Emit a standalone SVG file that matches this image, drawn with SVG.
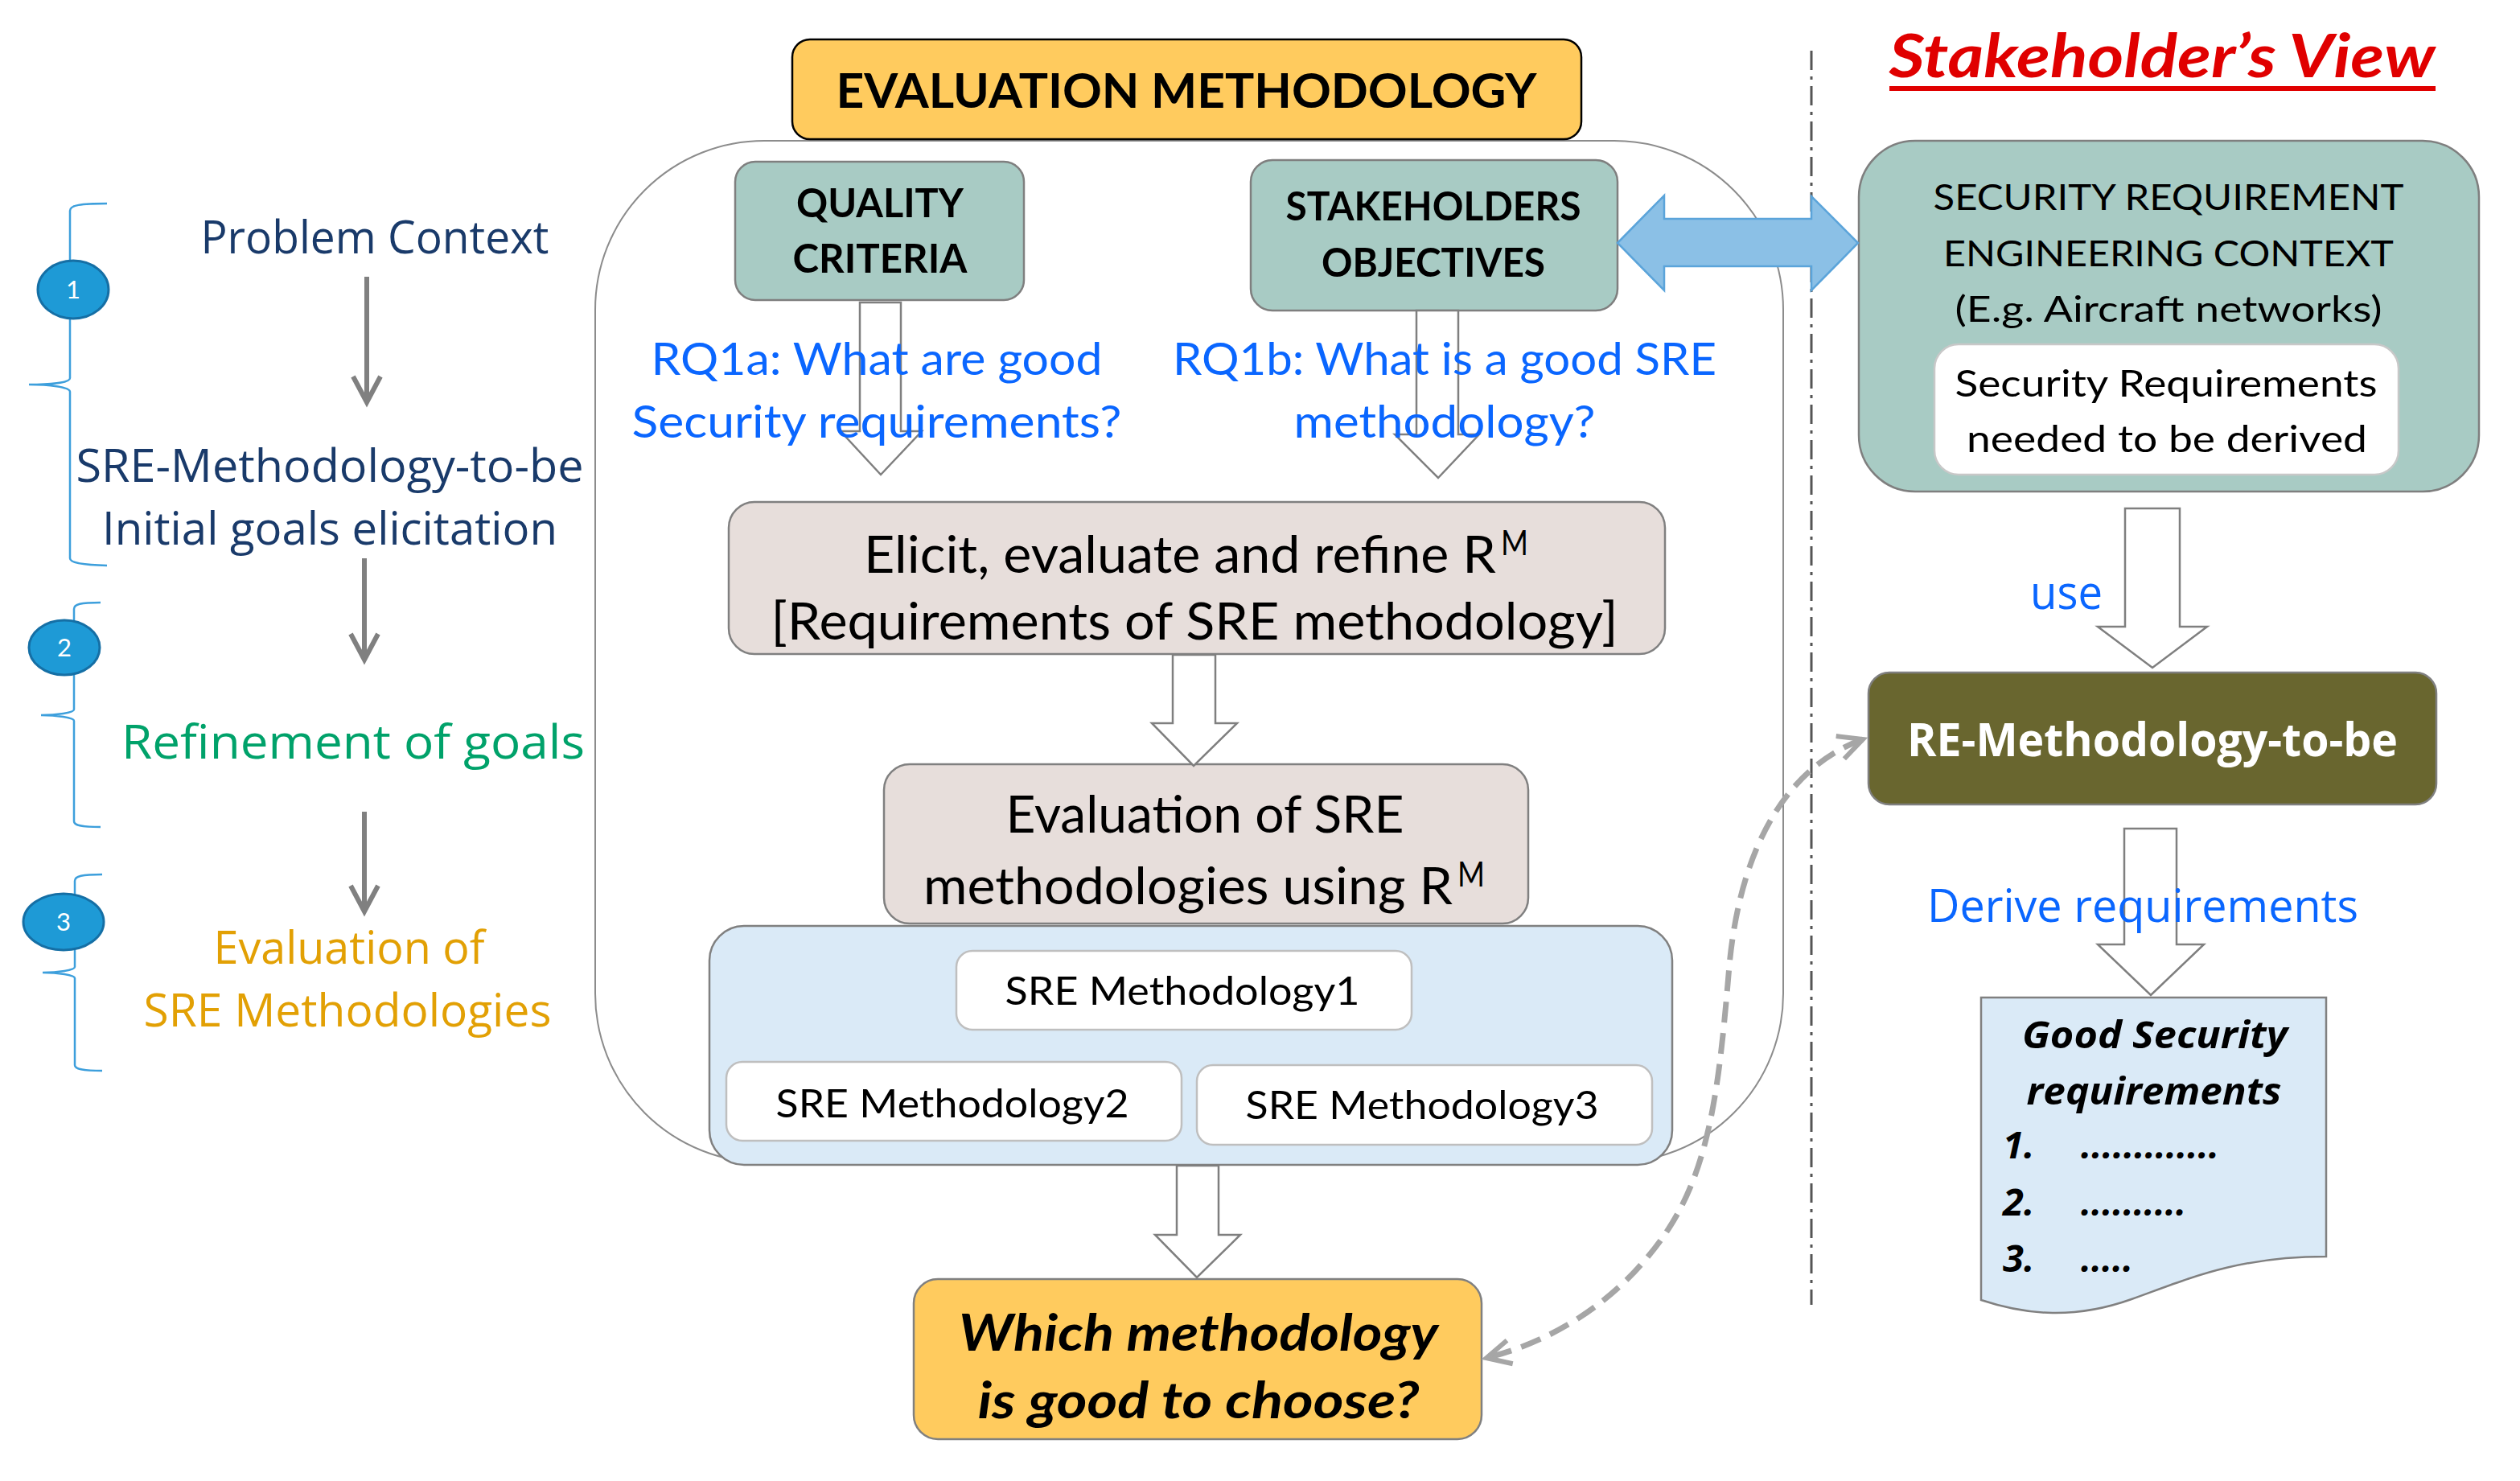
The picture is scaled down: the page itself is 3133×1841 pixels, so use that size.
<svg xmlns="http://www.w3.org/2000/svg" width="3133" height="1841" viewBox="0 0 3133 1841">
<defs>
<style>
text { font-family: Lato, 'Open Sans', 'Liberation Sans', sans-serif; fill:#000000; }
.os { font-family: 'Open Sans', 'Liberation Sans', sans-serif; }
.c { text-anchor: middle; }
.b { font-weight: bold; }
.i { font-style: italic; }
.teal { fill:#A8CBC4; stroke:#7F7F7F; stroke-width:2.5; }
.rose { fill:#E7DEDB; stroke:#808080; stroke-width:2.5; }
.lblue { fill:#DAEAF7; stroke:#808080; stroke-width:2.5; }
.wbox { fill:#FFFFFF; stroke:#BFBFBF; stroke-width:2.5; }
.gold { fill:#FFCB5E; stroke:#808080; stroke-width:2.5; }
.block { fill:#FFFFFF; stroke:#7F7F7F; stroke-width:2.5; stroke-linejoin:miter; }
.brace { fill:none; stroke:#3D9FDC; stroke-width:2.5; }
.badge { fill:#1E9AD6; stroke:#156FA5; stroke-width:3; }
.badge-t { fill:#FFFFFF; font-size:31px; text-anchor:middle; }
.garrow { stroke:#808080; stroke-width:6; fill:none; marker-end:url(#gv); }
.blue { fill:#0A66FF; }
.navy { fill:#193A6A; }
</style>
<marker id="gv" markerUnits="userSpaceOnUse" viewBox="-40 -24 48 48" markerWidth="48" markerHeight="48" refX="0" refY="0" orient="auto">
<path d="M -32,-17 L 0,0 L -32,17" fill="none" stroke="#808080" stroke-width="6"/>
</marker>
<marker id="dv" markerUnits="userSpaceOnUse" viewBox="-40 -24 48 48" markerWidth="48" markerHeight="48" refX="0" refY="0" orient="auto-start-reverse">
<path d="M -30,-15 L 0,0 L -30,15" fill="none" stroke="#A6A6A6" stroke-width="6" stroke-dasharray="none"/>
</marker>
</defs>

<rect width="3133" height="1841" fill="#FFFFFF"/>

<!-- divider -->
<line id="divider" x1="2252" y1="63" x2="2252" y2="1622" stroke="#555555" stroke-width="3" stroke-dasharray="24 8 4 8"/>

<!-- left column -->
<g id="phases">
<path class="brace" d="M 133,253 C 100,253 87,255 87,262 L 87,470 C 87,476 60,478 36,478 C 60,478 87,481 87,487 L 87,694 C 87,699 100,702 133,703"/>
<path class="brace" d="M 125,749 C 100,749 92,751 92,757 L 92,882 C 92,886 70,889 51,889 C 70,889 92,892 92,896 L 92,1021 C 92,1026 100,1028 125,1028"/>
<path class="brace" d="M 127,1087 C 102,1087 93,1089 93,1095 L 93,1202 C 93,1206 72,1209 53,1209 C 72,1209 93,1212 93,1216 L 93,1324 C 93,1329 102,1331 127,1331"/>
<g id="badge1"><ellipse class="badge" cx="91" cy="360" rx="44" ry="36"/><text class="badge-t" x="91" y="371">1</text></g>
<g id="badge2"><ellipse class="badge" cx="80" cy="805" rx="44" ry="34"/><text class="badge-t" x="80" y="816">2</text></g>
<g id="badge3"><ellipse class="badge" cx="79" cy="1146" rx="50" ry="35"/><text class="badge-t" x="79" y="1157">3</text></g>
<g id="phase-problem"><text class="os c navy" x="466" y="315" font-size="56" textLength="433" lengthAdjust="spacingAndGlyphs">Problem Context</text></g>
<g id="phase-initial"><text class="os c navy" x="410" y="599" font-size="57" textLength="631" lengthAdjust="spacingAndGlyphs">SRE-Methodology-to-be</text>
<text class="os c navy" x="410" y="677" font-size="57" textLength="566" lengthAdjust="spacingAndGlyphs">Initial goals elicitation</text></g>
<g id="phase-refine"><text class="os c" x="439" y="943" font-size="58" style="fill:#00A26A" textLength="576" lengthAdjust="spacingAndGlyphs">Refinement of goals</text></g>
<g id="phase-eval"><text class="os c" x="434" y="1198" font-size="56" style="fill:#E2A004" textLength="337" lengthAdjust="spacingAndGlyphs">Evaluation of</text>
<text class="os c" x="432" y="1276" font-size="56" style="fill:#E2A004" textLength="507" lengthAdjust="spacingAndGlyphs">SRE Methodologies</text></g>
</g>

<!-- main container -->
<g id="evaluation-frame">
<rect x="740" y="175" width="1477" height="1270" rx="210" ry="210" fill="#FFFFFF" stroke="#8C8C8C" stroke-width="2"/>
</g>

<g id="eval-title">
<rect x="985" y="49" width="981" height="124" rx="22" fill="#FFCB5E" stroke="#000000" stroke-width="2.5"/>
<text class="c b" x="1475" y="134" font-size="60" textLength="871" lengthAdjust="spacingAndGlyphs">EVALUATION METHODOLOGY</text>
</g>

<g id="quality-criteria">
<rect class="teal" x="914" y="201" width="359" height="172" rx="25"/>
<text class="c b" x="1094" y="270" font-size="49" textLength="208" lengthAdjust="spacingAndGlyphs">QUALITY</text>
<text class="c b" x="1094" y="339" font-size="49" textLength="217" lengthAdjust="spacingAndGlyphs">CRITERIA</text>
</g>

<g id="stakeholders-objectives">
<rect class="teal" x="1555" y="199" width="456" height="187" rx="27"/>
<text class="c b" x="1782" y="274" font-size="49" textLength="367" lengthAdjust="spacingAndGlyphs">STAKEHOLDERS</text>
<text class="c b" x="1782" y="344" font-size="49" textLength="278" lengthAdjust="spacingAndGlyphs">OBJECTIVES</text>
</g>

<g id="elicit">
<rect class="rose" x="906" y="624" width="1164" height="189" rx="32"/>
<text x="1074" y="712" font-size="63" textLength="786" lengthAdjust="spacingAndGlyphs">Elicit, evaluate and refine R</text>
<text x="1866" y="690" font-size="42" textLength="34" lengthAdjust="spacingAndGlyphs">M</text>
<text class="c" x="1485" y="795" font-size="63" textLength="1053" lengthAdjust="spacingAndGlyphs">[Requirements of SRE methodology]</text>
</g>

<g id="evaluation">
<rect class="rose" x="1099" y="950" width="801" height="198" rx="32"/>
<text class="c" x="1498" y="1035" font-size="63" textLength="495" lengthAdjust="spacingAndGlyphs">Evaluation of SRE</text>
<text x="1148" y="1124" font-size="63" textLength="658" lengthAdjust="spacingAndGlyphs">methodologies using R</text>
<text x="1812" y="1102" font-size="42" textLength="34" lengthAdjust="spacingAndGlyphs">M</text>
</g>

<g id="methodologies">
<rect class="lblue" x="882" y="1151" width="1197" height="297" rx="43"/>
<g id="method1"><rect class="wbox" x="1189" y="1182" width="566" height="98" rx="20"/>
<text class="c" x="1470" y="1249" font-size="48" textLength="441" lengthAdjust="spacingAndGlyphs">SRE Methodology1</text></g>
<g id="method2"><rect class="wbox" x="903" y="1320" width="566" height="98" rx="20"/>
<text class="c" x="1184" y="1389" font-size="48" textLength="439" lengthAdjust="spacingAndGlyphs">SRE Methodology2</text></g>
<g id="method3"><rect class="wbox" x="1488" y="1324" width="566" height="99" rx="20"/>
<text class="c" x="1768" y="1391" font-size="48" textLength="439" lengthAdjust="spacingAndGlyphs">SRE Methodology3</text></g>
</g>

<g id="which">
<rect class="gold" x="1136" y="1590" width="706" height="199" rx="30"/>
<text class="c b i" x="1490" y="1679" font-size="63" textLength="596" lengthAdjust="spacingAndGlyphs">Which methodology</text>
<text class="c b i" x="1490" y="1763" font-size="63" textLength="549" lengthAdjust="spacingAndGlyphs">is good to choose?</text>
</g>

<!-- right side -->
<g id="stakeholder-view-title">
<text class="c b i" x="2688" y="96" font-size="74" style="fill:#E00000" textLength="679" lengthAdjust="spacingAndGlyphs">Stakeholder’s View</text>
<rect x="2349" y="107" width="679" height="6" fill="#E00000"/>
</g>

<g id="sre-context">
<rect class="teal" x="2311" y="175" width="771" height="436" rx="70"/>
<text class="c" x="2696" y="261" font-size="45" textLength="585" lengthAdjust="spacingAndGlyphs">SECURITY REQUIREMENT</text>
<text class="c" x="2696" y="331" font-size="45" textLength="560" lengthAdjust="spacingAndGlyphs">ENGINEERING CONTEXT</text>
<text class="c" x="2696" y="400" font-size="45" textLength="531" lengthAdjust="spacingAndGlyphs">(E.g. Aircraft networks)</text>
<rect x="2405" y="428" width="577" height="162" rx="30" fill="#FFFFFF" stroke="#C8C8C8" stroke-width="2.5"/>
<text class="c" x="2693" y="493" font-size="47" textLength="525" lengthAdjust="spacingAndGlyphs">Security Requirements</text>
<text class="c" x="2694" y="562" font-size="47" textLength="498" lengthAdjust="spacingAndGlyphs">needed to be derived</text>
</g>

<g id="re-methodology">
<rect x="2323" y="836" width="706" height="164" rx="26" fill="#69662F" stroke="#7F7F7F" stroke-width="2.5"/>
<text class="os c b" x="2676" y="940" font-size="58" style="fill:#FFFFFF" textLength="610" lengthAdjust="spacingAndGlyphs">RE-Methodology-to-be</text>
</g>

<g id="good-requirements">
<path d="M 2463,1240 L 2892,1240 L 2892,1562 C 2780,1562 2720,1590 2650,1615 C 2580,1640 2520,1635 2463,1616 Z" fill="#DAEAF7" stroke="#808080" stroke-width="2.5"/>
<text class="os c b i" x="2679" y="1303" font-size="47" textLength="330" lengthAdjust="spacingAndGlyphs">Good Security</text>
<text class="os c b i" x="2678" y="1373" font-size="47" textLength="317" lengthAdjust="spacingAndGlyphs">requirements</text>
<text class="os b i" x="2490" y="1440" font-size="47">1.</text>
<text class="os b i" x="2587" y="1440" font-size="47" textLength="172" lengthAdjust="spacingAndGlyphs">.............</text>
<text class="os b i" x="2490" y="1511" font-size="47">2.</text>
<text class="os b i" x="2587" y="1511" font-size="47" textLength="131" lengthAdjust="spacingAndGlyphs">..........</text>
<text class="os b i" x="2490" y="1581" font-size="47">3.</text>
<text class="os b i" x="2587" y="1581" font-size="47" textLength="65" lengthAdjust="spacingAndGlyphs">.....</text>
</g>

<!-- connectors -->
<g id="connectors">
<line class="garrow" x1="456" y1="344" x2="456" y2="500"/>
<line class="garrow" x1="453" y1="694" x2="453" y2="820"/>
<line class="garrow" x1="453" y1="1009" x2="453" y2="1133"/>
<path class="block" d="M 1069,376 L 1120,376 L 1120,536 L 1146,536 L 1095,590 L 1045,536 L 1069,536 Z"/>
<path class="block" d="M 1761,386 L 1813,386 L 1813,540 L 1839,540 L 1788,594 L 1734,540 L 1761,540 Z"/>
<path class="block" d="M 1458,814 L 1511,814 L 1511,899 L 1538,899 L 1484,952 L 1432,899 L 1458,899 Z"/>
<path class="block" d="M 1463,1449 L 1515,1449 L 1515,1535 L 1542,1535 L 1488,1588 L 1436,1535 L 1463,1535 Z"/>
<path class="block" d="M 2642,632 L 2710,632 L 2710,779 L 2744,779 L 2676,830 L 2608,779 L 2642,779 Z"/>
<path class="block" d="M 2641,1030 L 2706,1030 L 2706,1174 L 2740,1174 L 2674,1237 L 2608,1174 L 2641,1174 Z"/>
<path d="M 2011,302 L 2069,243 L 2069,272 L 2252,272 L 2252,244 L 2310,302 L 2252,361 L 2252,331 L 2069,331 L 2069,361 Z" fill="#8BC0E6" stroke="#5BA4DA" stroke-width="2.5"/>
<path d="M 2316,919 C 2230,950 2165,1040 2150,1200 C 2135,1380 2122,1480 2042,1570 C 1990,1630 1920,1670 1848,1688" fill="none" stroke="#A6A6A6" stroke-width="7" stroke-dasharray="26 13" marker-start="url(#dv)" marker-end="url(#dv)"/>
</g>

<!-- free labels -->
<g id="labels">
<text class="c blue" x="1090" y="466" font-size="57" textLength="561" lengthAdjust="spacingAndGlyphs">RQ1a: What are good</text>
<text class="c blue" x="1090" y="544" font-size="57" textLength="609" lengthAdjust="spacingAndGlyphs">Security requirements?</text>
<text class="c blue" x="1796" y="466" font-size="57" textLength="676" lengthAdjust="spacingAndGlyphs">RQ1b: What is a good SRE</text>
<text class="c blue" x="1796" y="544" font-size="57" textLength="375" lengthAdjust="spacingAndGlyphs">methodology?</text>
<text class="os c blue" x="2569" y="757" font-size="58" textLength="90" lengthAdjust="spacingAndGlyphs">use</text>
<text class="os c blue" x="2664" y="1146" font-size="56" textLength="536" lengthAdjust="spacingAndGlyphs">Derive requirements</text>
</g>
</svg>
